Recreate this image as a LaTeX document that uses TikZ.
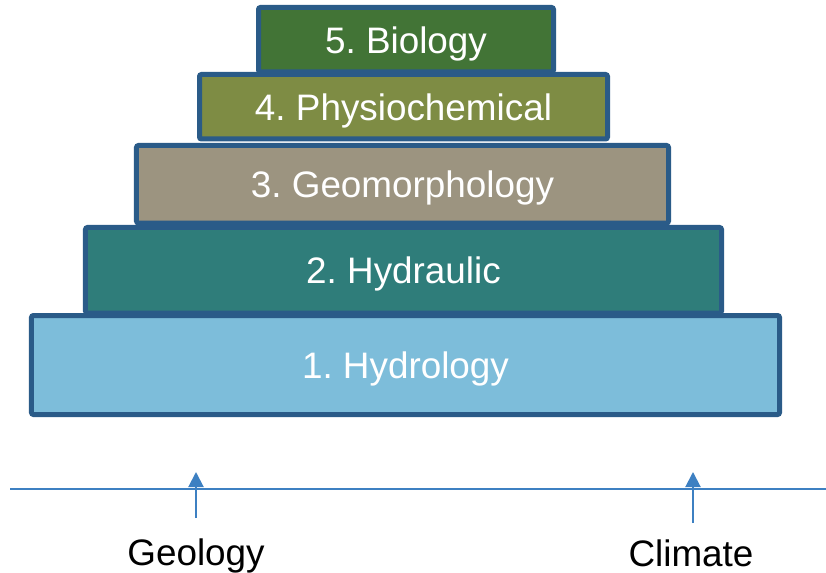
\documentclass[tikz,border=0pt]{standalone}
\usepackage{fontspec}
\setmainfont{Liberation Sans}
\usetikzlibrary{arrows.meta}
\definecolor{edgeblue}{HTML}{2A5B88}
\definecolor{lineblue}{HTML}{3D80C2}
\definecolor{hydrology}{HTML}{7DBDDA}
\definecolor{hydraulic}{HTML}{2F7D7A}
\definecolor{geomorph}{HTML}{9C9480}
\definecolor{physchem}{HTML}{7E8C44}
\definecolor{biology}{HTML}{427436}
\frenchspacing
\begin{document}
\begin{tikzpicture}[x=1bp,y=-1bp,
    layer/.style={rectangle,draw=edgeblue,line width=5bp,rounded corners=2bp,
        text=white,inner sep=0pt,text depth=0pt,font=\fontsize{37}{40}\selectfont},
    base/.style={font=\fontsize{37}{40}\selectfont,inner sep=0pt,anchor=base},
    driver/.style={draw=lineblue,line width=2bp,-{Triangle[width=15bp,length=15bp]}}]
    \useasboundingbox (0,0) rectangle (826,573);
    % pyramid, bottom to top
    \node[layer,fill=hydrology,minimum width=748bp,minimum height=99bp] (L1) at (405.5,365) {1. Hydrology};
    \node[layer,fill=hydraulic,minimum width=636bp,minimum height=85.5bp] (L2) at (403.5,270.25) {2. Hydraulic};
    \node[layer,fill=geomorph,minimum width=532bp,minimum height=77.5bp] (L3) at (402.5,184.25) {3. Geomorphology};
    \node[layer,fill=physchem,minimum width=408bp,minimum height=64.5bp] (L4) at (403.5,106.75) {4. Physiochemical};
    \node[layer,fill=biology,minimum width=295bp,minimum height=64.5bp] (L5) at (406,39.75) {5. Biology};
    % ground line and drivers
    \coordinate (G0) at (10,489);
    \coordinate (G1) at (826,489);
    \draw[lineblue,line width=2bp] (G0) -- (G1);
    \node[base] (geo) at (196,565) {Geology};
    \node[base] (cli) at (691,566) {Climate};
    \coordinate (geoT) at (196,472);
    \coordinate (cliT) at (693,472);
    \draw[driver] (196,518) coordinate (geoB) -- (geoT);
    \draw[driver] (693,523) coordinate (cliB) -- (cliT);
\end{tikzpicture}
\end{document}
